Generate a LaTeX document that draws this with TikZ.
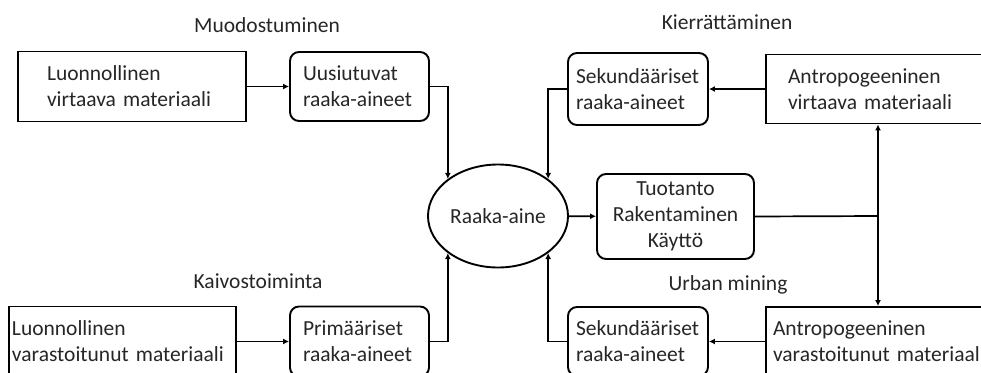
\documentclass[tikz,border=0pt]{standalone}
\usepackage{fontspec}
\setmainfont{Carlito}
\usetikzlibrary{arrows.meta,shapes.geometric}

\begin{document}
\begin{tikzpicture}[x=1pt,y=-1pt,
	every node/.style={font=\fontsize{21.5}{26}\selectfont, text=black!85},
	box/.style={draw, line width=1.9pt, align=left, inner ysep=0pt},
	rbox/.style={box, rounded corners=9pt},
	arr/.style={line width=1.7pt, -{Latex[length=6pt,width=6pt]}}]
	\useasboundingbox (0,0) rectangle (981,372);
	\clip (0,0) rectangle (981,372);
	
	% left side
	\node[box, inner xsep=29pt, text width=170pt, minimum height=70pt] (natflow) at (132,86.5) {Luonnollinen\\virtaava materiaali};
	\node[rbox, inner xsep=13pt, text width=113pt, minimum height=69pt] (renew) at (359.5,86.5) {Uusiutuvat\\raaka-aineet};
	\node[box, inner xsep=3pt, text width=221pt, minimum height=70pt] (natstock) at (122.5,341.5) {Luonnollinen\\varastoitunut materiaali};
	\node[rbox, inner xsep=13pt, text width=113pt, minimum height=70pt] (primary) at (359.5,341.5) {Primääriset\\raaka-aineet};
	
	% middle
	\node[ellipse, draw, line width=1.9pt, inner sep=0pt, minimum width=140pt, minimum height=103pt] (raw) at (498,216) {Raaka-aine};
	\node[rbox, align=center, minimum width=157pt, minimum height=85pt] (use) at (675.5,216.5) {Tuotanto\\Rakentaminen\\Käyttö};
	
	% right side
	\node[rbox, inner xsep=8pt, text width=124pt, minimum height=72pt] (secup) at (638,89) {Sekundääriset\\raaka-aineet};
	\node[box, inner xsep=22pt, text width=190pt, minimum height=69pt] (anthflow) at (883,89) {Antropogeeninen\\virtaava materiaali};
	\node[rbox, inner xsep=8pt, text width=124pt, minimum height=69pt] (secdown) at (638,341.5) {Sekundääriset\\raaka-aineet};
	\node[box, inner xsep=7pt, text width=220pt, minimum height=69pt] (anthstock) at (883,341.5) {Antropogeeninen\\varastoitunut materiaali};
	
	% labels
	\node (lblform) at (267,25) {Muodostuminen};
	\node (lblrecy) at (727,22) {Kierrättäminen};
	\node (lblmine) at (258,281) {Kaivostoiminta};
	\node (lblurban) at (728,285) {Urban mining};
	
	% connectors
	\draw[arr] (natflow) -- (renew);
	\draw[arr] (natstock) -- (primary);
	\draw[arr] (renew.east) -| (raw.north west);
	\draw[arr] (primary.east) -| (raw.south west);
	\draw[arr] (secup.west) -| (raw.north east);
	\draw[arr] (secdown.west) -| (raw.south east);
	\draw[arr] (raw) -- (use);
	\draw[arr] (anthflow) -- (secup);
	\draw[arr] (anthstock) -- (secdown);
	
	\coordinate (split) at (878,216);
	\draw[line width=1.7pt] (use.east) -- (split);
	\draw[arr] (split) -- (split |- anthflow.south);
	\draw[arr] (split) -- (split |- anthstock.north);
\end{tikzpicture}
\end{document}
